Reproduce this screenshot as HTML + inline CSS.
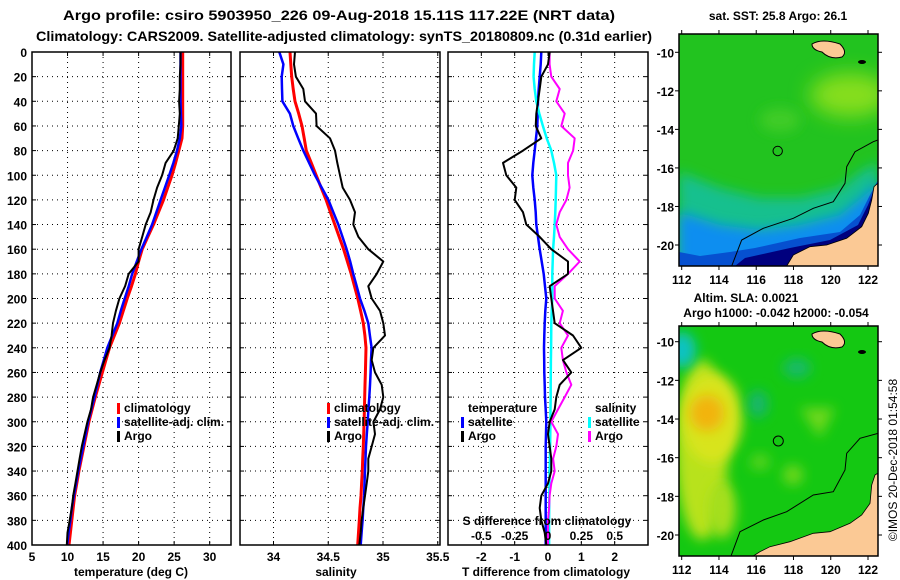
<!DOCTYPE html>
<html><head><meta charset="utf-8">
<style>
html,body{margin:0;padding:0;background:#fff;}
svg{display:block;font-family:"Liberation Sans",sans-serif;font-weight:bold;}
</style></head>
<body>
<svg id="fig" width="900" height="580" viewBox="0 0 900 580" xmlns="http://www.w3.org/2000/svg">
<defs>
<filter id="blur6" x="-50%" y="-50%" width="200%" height="200%"><feGaussianBlur stdDeviation="6"/></filter>
<filter id="blur10" x="-50%" y="-50%" width="200%" height="200%"><feGaussianBlur stdDeviation="10"/></filter>
<clipPath id="clipM1"><rect x="679" y="34" width="199" height="232"/></clipPath>
<clipPath id="clipM2"><rect x="679" y="326" width="199" height="230"/></clipPath>
</defs>
<text x="339" y="20" text-anchor="middle" font-size="14" textLength="552" lengthAdjust="spacingAndGlyphs">Argo profile: csiro 5903950_226 09-Aug-2018 15.11S 117.22E (NRT data)</text>
<text x="344" y="41" text-anchor="middle" font-size="14" textLength="616" lengthAdjust="spacingAndGlyphs">Climatology: CARS2009. Satellite-adjusted climatology: synTS_20180809.nc (0.31d earlier)</text>
<g id="panels"></g>

<!-- Map 1 : SST -->
<g>
<text x="778" y="20" text-anchor="middle" font-size="12">sat. SST: 25.8 Argo: 26.1</text>
<g clip-path="url(#clipM1)">
<rect x="679" y="34" width="199" height="232" fill="#22c31f"/>
<ellipse cx="850" cy="95" rx="40" ry="22" fill="#86de1e" filter="url(#blur10)"/>
<ellipse cx="780" cy="120" rx="20" ry="12" fill="#40cc28" filter="url(#blur6)"/>
<polygon points="679,172 720,188 760,198 800,198 840,188 860,172 878,162 878,266 679,266" fill="#12c08e" filter="url(#blur6)"/>
<polygon points="679,212 720,225 760,230 800,225 840,215 865,195 878,180 878,266 679,266" fill="#0a8ef0" filter="url(#blur6)"/>
<polygon points="679,252 700,256 730,252 755,248 800,238 840,232 860,215 870,195 878,180 878,266 679,266" fill="#0650d0"/>
<polygon points="735,266 745,258 790,248 830,240 858,225 868,205 876,185 878,266" fill="#00007e"/>
<polygon points="786.7,266 793.3,255 810,246.7 826.7,245 846.7,238.3 861.7,226.7 868.3,213.3 871.7,200 874,186.7 877.7,183.3 878,266" fill="#fbc995" stroke="#000" stroke-width="0.8"/>
<polyline points="731.7,266 741.7,240 763.3,228.3 793.3,218.3 813.3,208.3 833.3,201.7 845,183.3 846.7,166.7 855,151.7 873.3,141.7 878,140" fill="none" stroke="#000" stroke-width="1"/>
<path d="M812,44 Q822,38 840,44 Q848,52 842,57 Q830,60 822,52 Q812,50 812,44 Z" fill="#fbc995" stroke="#000" stroke-width="1"/>
<ellipse cx="862" cy="62" rx="4" ry="2" fill="#000"/>
<circle cx="777.7" cy="151" r="4.7" fill="none" stroke="#000" stroke-width="1"/>
</g>
<rect x="679" y="34" width="199" height="232" fill="none" stroke="#000" stroke-width="1.5"/>
<g id="map1axes"></g>
</g>

<!-- Map 2 : SLA -->
<g>
<text x="746" y="302" text-anchor="middle" font-size="12">Altim. SLA: 0.0021</text>
<text x="776" y="317" text-anchor="middle" font-size="12">Argo h1000: -0.042 h2000: -0.054</text>
<g clip-path="url(#clipM2)">
<rect x="679" y="326" width="199" height="230" fill="#14c812"/>
<ellipse cx="702" cy="450" rx="26" ry="90" fill="#b8e21c" filter="url(#blur6)"/>
<ellipse cx="712" cy="418" rx="30" ry="45" fill="#d8e41a" filter="url(#blur6)"/>
<ellipse cx="707" cy="413" rx="17" ry="18" fill="#f2b40e" filter="url(#blur6)"/>
<ellipse cx="722" cy="510" rx="14" ry="28" fill="#a6df1c" filter="url(#blur6)"/>
<ellipse cx="682" cy="350" rx="14" ry="18" fill="#10c2c2" filter="url(#blur6)"/>
<ellipse cx="758" cy="404" rx="10" ry="14" fill="#16b66e" filter="url(#blur6)"/>
<ellipse cx="797" cy="368" rx="14" ry="10" fill="#18ba6a" filter="url(#blur6)"/>
<polygon points="800,408 835,408 820,438" fill="#70d81e" filter="url(#blur6)"/>
<ellipse cx="793" cy="475" rx="10" ry="10" fill="#70d81e" filter="url(#blur6)"/>
<ellipse cx="760" cy="462" rx="10" ry="8" fill="#58d41c" filter="url(#blur6)"/>
<polygon points="753.3,556 760,551.7 770,546.7 790,541.7 813.3,533.3 830,531.7 850,523.3 861.7,515 870,503.3 871.7,485 875,475 877.7,473.3 878,556" fill="#fbc995" stroke="#000" stroke-width="0.8"/>
<polyline points="731,556 740,531.7 763.3,520 786.7,511.7 813.3,495 833.3,491.7 845,470 846.7,453.3 860,438.3 878,433.3" fill="none" stroke="#000" stroke-width="1"/>
<path d="M812,334 Q822,328 840,334 Q848,342 842,347 Q830,350 822,342 Q812,340 812,334 Z" fill="#fbc995" stroke="#000" stroke-width="1"/>
<ellipse cx="862" cy="352" rx="4" ry="2" fill="#000"/>
<circle cx="778.3" cy="441" r="5" fill="none" stroke="#000" stroke-width="1"/>
</g>
<rect x="679" y="326" width="199" height="230" fill="none" stroke="#000" stroke-width="1.5"/>
<g id="map2axes"></g>
</g>
<text transform="translate(897,460) rotate(-90)" text-anchor="middle" font-size="12" font-weight="normal">©IMOS 20-Dec-2018 01:54:58</text>
</svg>
<script>
// ---- data (depth levels, dbar) ----
const depths = [0,10,20,30,40,50,60,70,80,90,100,110,120,130,140,150,160,170,180,190,200,210,220,230,240,250,260,270,280,290,300,310,320,330,340,350,360,370,380,390,400];
const tempClim = [26.2,26.2,26.2,26.2,26.2,26.2,26.2,26.1,25.66,25.2,24.7,24.1,23.5,22.8,22.1,21.3,20.5,20.0,19.55,19.0,18.4,17.85,17.3,16.6,15.9,15.4,14.9,14.4,13.9,13.45,13.0,12.65,12.3,11.95,11.6,11.3,11.0,10.8,10.6,10.4,10.2];
const tempSat = [25.9,25.9,25.9,25.9,25.9,25.95,26.0,25.8,25.4,24.9,24.3,23.7,23.1,22.5,21.9,21.15,20.4,19.75,19.1,18.6,18.05,17.5,17.0,16.3,15.6,15.1,14.6,14.2,13.8,13.35,12.9,12.55,12.2,11.85,11.5,11.2,10.9,10.6,10.4,10.15,9.95];
const tempArgo = [25.9,25.9,25.8,25.8,25.7,25.8,25.66,25.5,24.95,23.8,23.3,22.6,22.1,21.7,21.0,20.5,20.0,20.0,18.6,18.1,17.3,16.8,16.4,16.2,15.9,15.2,14.6,14.1,13.6,13.3,12.8,12.4,12.0,11.7,11.4,11.1,10.8,10.6,10.3,10.0,9.9];
const salClim = [34.151,34.158,34.166,34.18,34.196,34.23,34.26,34.28,34.30,34.345,34.39,34.435,34.48,34.52,34.56,34.60,34.64,34.675,34.71,34.74,34.77,34.795,34.82,34.835,34.845,34.842,34.839,34.836,34.833,34.83,34.827,34.824,34.82,34.815,34.811,34.805,34.799,34.79,34.784,34.776,34.769];
const salSat = [34.053,34.09,34.075,34.078,34.081,34.15,34.181,34.226,34.272,34.325,34.379,34.44,34.501,34.546,34.592,34.63,34.668,34.70,34.729,34.76,34.79,34.83,34.866,34.88,34.896,34.89,34.887,34.881,34.875,34.867,34.86,34.852,34.845,34.84,34.836,34.831,34.827,34.82,34.814,34.805,34.796];
const salArgo = [34.196,34.187,34.205,34.272,34.288,34.388,34.394,34.516,34.562,34.583,34.607,34.632,34.699,34.744,34.729,34.775,34.866,35.003,34.942,34.866,34.897,34.973,35.003,35.018,34.912,34.897,34.927,34.988,35.003,34.973,34.912,34.927,34.897,34.866,34.866,34.851,34.836,34.820,34.805,34.796,34.784];
const tDiffSat = [-0.2,-0.22,-0.25,-0.28,-0.3,-0.31,-0.32,-0.36,-0.4,-0.44,-0.47,-0.44,-0.4,-0.37,-0.35,-0.3,-0.25,-0.19,-0.13,-0.09,-0.05,-0.08,-0.1,-0.11,-0.12,-0.115,-0.11,-0.1,-0.09,-0.07,-0.05,-0.06,-0.07,-0.07,-0.07,-0.07,-0.07,-0.07,-0.07,-0.07,-0.07];
const tDiffArgo = [0.05,0.0,-0.2,-0.25,-0.3,-0.35,-0.37,-0.2,-0.75,-1.35,-1.25,-0.95,-1.0,-0.75,-0.65,-0.25,0.1,0.6,0.6,0.05,0.1,0.15,0.2,0.75,1.0,0.45,0.7,0.35,0.25,0.2,0.05,0.0,0.05,0.1,0.1,0.0,-0.2,-0.25,-0.2,-0.1,-0.05];
const sDiffSat = [-0.1,-0.105,-0.108,-0.1,-0.088,-0.065,-0.038,-0.01,0.025,0.045,0.062,0.06,0.058,0.055,0.05,0.045,0.038,0.035,0.032,0.032,0.032,0.028,0.025,0.024,0.023,0.022,0.021,0.02,0.02,0.019,0.018,0.017,0.016,0.014,0.012,0.011,0.01,0.009,0.008,0.008,0.008];
const sDiffArgo = [0.012,0.012,0.025,0.088,0.062,0.125,0.1,0.2,0.188,0.15,0.15,0.162,0.138,0.088,0.062,0.088,0.15,0.238,0.15,0.05,0.05,0.112,0.088,0.15,0.1,0.112,0.138,0.175,0.125,0.075,0.025,0.075,0.062,0.038,0.05,0.025,0.012,0.008,0.0,0.0,0.0];
const depthTicks = [0,20,40,60,80,100,120,140,160,180,200,220,240,260,280,300,320,340,360,380,400];
const tempTicks = [5,10,15,20,25,30];
const salTicks = [34,34.5,35,35.5];
const salTickLabels = ["34","34.5","35","35.5"];
const tdTicks = [-2,-1,0,1,2];
const sdTicks = [-0.5,-0.25,0,0.25,0.5];
const sdTickLabels = ["-0.5","-0.25","0","0.25","0.5"];
const lonTicks = [112,114,116,118,120,122];
const latTicks = [-10,-12,-14,-16,-18,-20];

const NS = "http://www.w3.org/2000/svg";
const TOP = 52, BOT = 545;
const yOf = d => TOP + (d/400)*(BOT-TOP);
function mk(tag, attrs, parent){
  const e = document.createElementNS(NS, tag);
  for (const k in attrs) e.setAttribute(k, attrs[k]);
  parent.appendChild(e); return e;
}
function txt(parent, x, y, s, anchor, size){
  const t = mk('text', {x:x, y:y, 'text-anchor':anchor||'middle', 'font-size':size||12}, parent);
  t.textContent = s; return t;
}
const root = document.getElementById('panels');

function panel(name, x0, x1, xmin, xmax){
  const g = mk('g', {}, root);
  
  
  const xs = v => x0 + (v - xmin)/(xmax - xmin)*(x1 - x0);
  return {g, xs, x0, x1};
}
function frame(p, xticks){
  const grid = mk('g', {}, p.g);
  
  
  depthTicks.forEach(d => {
    if (d===0 || d===400) return;
    mk('line', {x1:p.x0, x2:p.x1, y1:yOf(d), y2:yOf(d), stroke:'#000', 'stroke-width':1, 'stroke-dasharray':'1,4'}, grid);
    mk('line', {x1:p.x0, x2:p.x0+4, y1:yOf(d), y2:yOf(d), stroke:'#000'}, grid);
    mk('line', {x1:p.x1-4, x2:p.x1, y1:yOf(d), y2:yOf(d), stroke:'#000'}, grid);
  });
  xticks.forEach(v => {
    const x = p.xs(v);
    if (x <= p.x0+1 || x >= p.x1-1) return;
    mk('line', {x1:x, x2:x, y1:TOP, y2:BOT, stroke:'#000', 'stroke-width':1, 'stroke-dasharray':'1,4'}, grid);
    mk('line', {x1:x, x2:x, y1:TOP, y2:TOP+4, stroke:'#000'}, grid);
    mk('line', {x1:x, x2:x, y1:BOT-4, y2:BOT, stroke:'#000'}, grid);
  });
}
function border(p){
  const r = mk('rect', {x:p.x0, y:TOP, width:p.x1-p.x0, height:BOT-TOP, fill:'none', stroke:'#000', 'stroke-width':1.5}, p.g);
  
  
}
function line(p, vals, color, w, name, scale){
  const sx = scale || p.xs;
  const pts = vals.map((v,i) => sx(v).toFixed(1)+','+yOf(depths[i]).toFixed(1)).join(' ');
  const l = mk('polyline', {points:pts, fill:'none', stroke:color, 'stroke-width':w, 'stroke-linejoin':'round'}, p.g);
  
  
}
function legend(p, x, y, color, label){
  const g = mk('g', {}, p.g);
  
  
  if (color) mk('rect', {x:x, y:y-9, width:3, height:11, fill:color}, g);
  txt(g, x+7, y, label, 'start', 12);
}

// Panel 1: temperature
const p1 = panel('temperature-panel', 32, 231, 5, 33);
frame(p1, tempTicks);
line(p1, tempClim, '#ff0000', 3, 'temp-climatology-line');
line(p1, tempSat, '#0000ff', 2.5, 'temp-satellite-line');
line(p1, tempArgo, '#000000', 2, 'temp-argo-line');
border(p1);
tempTicks.forEach(v => txt(p1.g, p1.xs(v), 561, String(v), 'middle', 12));
depthTicks.forEach(d => txt(p1.g, 27, yOf(d)+5, String(d), 'end', 12));
txt(p1.g, 131, 576, 'temperature (deg C)', 'middle', 12);
legend(p1, 117, 412, '#ff0000', 'climatology');
legend(p1, 117, 426, '#0000ff', 'satellite-adj. clim.');
legend(p1, 117, 440, '#000000', 'Argo');

// Panel 2: salinity
const p2 = panel('salinity-panel', 240, 440, 33.6941, 35.5205);
frame(p2, salTicks);
line(p2, salClim, '#ff0000', 3, 'sal-climatology-line');
line(p2, salSat, '#0000ff', 2.5, 'sal-satellite-line');
line(p2, salArgo, '#000000', 2, 'sal-argo-line');
border(p2);
salTicks.forEach((v,i) => txt(p2.g, p2.xs(v), 561, salTickLabels[i], 'middle', 12));
txt(p2.g, 336, 576, 'salinity', 'middle', 12);
legend(p2, 327, 412, '#ff0000', 'climatology');
legend(p2, 327, 426, '#0000ff', 'satellite-adj. clim.');
legend(p2, 327, 440, '#000000', 'Argo');

// Panel 3: differences
const p3 = panel('difference-panel', 448, 648, -3, 3);
const sdx = v => p3.xs(v*4);
frame(p3, tdTicks);
line(p3, tDiffSat, '#0000ff', 2.5, 'tdiff-satellite-line');
line(p3, sDiffSat, '#00ffff', 2.5, 'sdiff-satellite-line', sdx);
line(p3, sDiffArgo, '#ff00ff', 2, 'sdiff-argo-line', sdx);
line(p3, tDiffArgo, '#000000', 2, 'tdiff-argo-line');
border(p3);
tdTicks.forEach(v => txt(p3.g, p3.xs(v), 561, String(v), 'middle', 12));
sdTicks.forEach((v,i) => txt(p3.g, sdx(v), 540, sdTickLabels[i], 'middle', 12));
txt(p3.g, 547, 525, 'S difference from climatology', 'middle', 12);
txt(p3.g, 546, 576, 'T difference from climatology', 'middle', 12);
legend(p3, 461, 412, null, 'temperature');
legend(p3, 461, 426, '#0000ff', 'satellite');
legend(p3, 461, 440, '#000000', 'Argo');
legend(p3, 588, 412, null, 'salinity');
legend(p3, 588, 426, '#00ffff', 'satellite');
legend(p3, 588, 440, '#ff00ff', 'Argo');

// Map axes
function mapAxes(id, top, bottom, lat10y, lat20y){
  const g = document.getElementById(id);
  
  
  const lx = lon => 681.7 + (lon-112)/10*(868-681.7);
  const ly = lat => lat10y + (-10-lat)/10*(lat20y-lat10y);
  lonTicks.forEach(l => {
    mk('line', {x1:lx(l), x2:lx(l), y1:top-4, y2:top, stroke:'#000'}, g);
    mk('line', {x1:lx(l), x2:lx(l), y1:bottom, y2:bottom+4, stroke:'#000'}, g);
    txt(g, lx(l), bottom+18, String(l), 'middle', 12);
  });
  latTicks.forEach(l => {
    mk('line', {x1:878, x2:882, y1:ly(l), y2:ly(l), stroke:'#000'}, g);
    mk('line', {x1:675, x2:679, y1:ly(l), y2:ly(l), stroke:'#000'}, g);
    txt(g, 674, ly(l)+5, String(l), 'end', 12);
  });
}
mapAxes('map1axes', 34, 266, 52.3, 245);
mapAxes('map2axes', 326, 556, 341.7, 535);
</script>
</body></html>
